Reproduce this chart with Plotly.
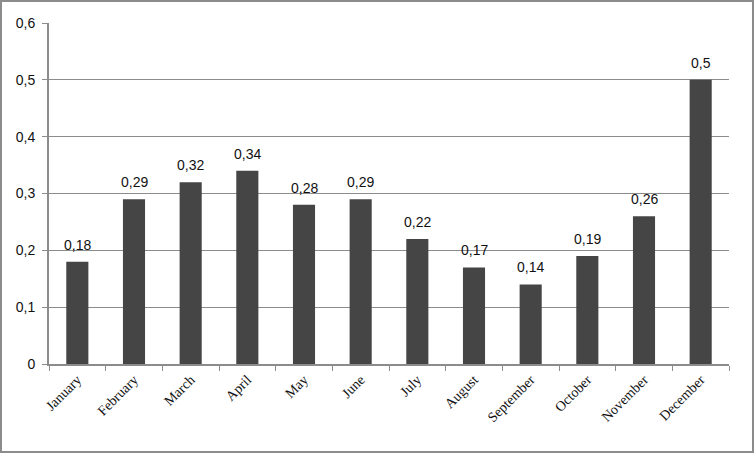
import plotly.graph_objects as go

months = ["January", "February", "March", "April", "May", "June", "July",
          "August", "September", "October", "November", "December"]
values = [0.18, 0.29, 0.32, 0.34, 0.28, 0.29, 0.22, 0.17, 0.14, 0.19, 0.26, 0.5]
y_ticks = [0, 0.1, 0.2, 0.3, 0.4, 0.5, 0.6]

W, H = 754, 453
ml, mr, mt, mb = 49, 25, 23, 89
pw = W - ml - mr
ph = H - mt - mb

labels = [str(v).replace(".", ",") for v in values]

fig = go.Figure()
fig.add_trace(go.Bar(
    x=months, y=values,
    marker_color="#454545", marker_line_width=0,
))

# value labels sit a bit above each bar
for m, v, lab in zip(months, values, labels):
    fig.add_annotation(x=m, y=v, text=lab, showarrow=False,
                       yanchor="bottom", yshift=7,
                       font=dict(family="Liberation Sans", size=14, color="#111"))

fig.update_layout(
    width=W, height=H,
    margin=dict(l=ml, r=mr, t=mt, b=mb, pad=0),
    paper_bgcolor="white", plot_bgcolor="white",
    bargap=0.61, showlegend=False,
    separators=", ",
)
fig.update_yaxes(
    range=[0, 0.6], tickvals=y_ticks,
    ticktext=[("%g" % t).replace(".", ",") for t in y_ticks],
    showgrid=True, gridcolor="#8c8c8c", gridwidth=1,
    showline=True, linecolor="#8c8c8c", linewidth=2,
    ticks="outside", ticklen=5, tickcolor="#8c8c8c",
    ticklabelstandoff=4,
    tickfont=dict(family="Liberation Sans", size=14, color="#111"),
    zeroline=False,
)
fig.update_xaxes(
    tickangle=-45, showline=True, linecolor="#8c8c8c", linewidth=2,
    ticks="outside", ticklen=5, tickcolor="#8c8c8c", tickson="boundaries",
    tickfont=dict(family="Liberation Serif", size=14, color="#111"),
)

# outer frame of the chart image
fig.add_shape(type="rect", xref="paper", yref="paper",
              x0=-(ml - 1) / pw, x1=1 + (mr - 1) / pw,
              y0=-(mb - 1) / ph, y1=1 + (mt - 1) / ph,
              line=dict(color="#8c8c8c", width=2))

fig.write_html("out.html", config={"displayModeBar": False},
               post_script="document.body.style.margin='0';")
